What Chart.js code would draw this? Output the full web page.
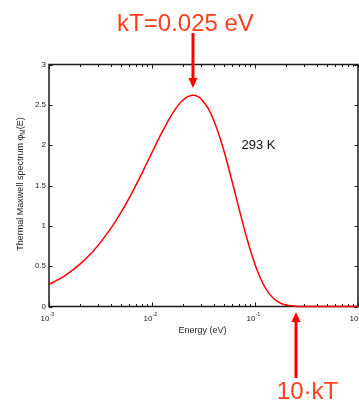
<!DOCTYPE html>
<html>
<head>
<meta charset="utf-8">
<script src="https://cdn.jsdelivr.net/npm/chart.js@4/dist/chart.umd.min.js"></script>
<style>
  html, body { margin: 0; padding: 0; background: #fff; }
  #wrap { width: 359px; height: 404px; position: relative; overflow: hidden; }
</style>
</head>
<body>
<div id="wrap"><canvas id="c" width="359" height="404"></canvas></div>
<script>
// Thermal Maxwell spectrum at 293 K (kT = 0.025 eV)
const energy = [0.001, 0.0012, 0.0015, 0.002, 0.0025, 0.003, 0.004, 0.005, 0.006, 0.007,
                0.008, 0.009, 0.01, 0.011, 0.012, 0.014, 0.015, 0.016, 0.018, 0.02,
                0.022, 0.025, 0.028, 0.03, 0.035, 0.04, 0.045, 0.05, 0.055, 0.06,
                0.065, 0.07, 0.08, 0.09, 0.1, 0.11, 0.12, 0.13, 0.14, 0.15,
                0.165, 0.18, 0.2, 0.25, 0.3, 0.5, 1.0];
const spectrum = [0.274, 0.326, 0.402, 0.526, 0.644, 0.758, 0.971, 1.166, 1.344, 1.507,
                  1.654, 1.788, 1.909, 2.018, 2.115, 2.277, 2.344, 2.403, 2.496, 2.559,
                  2.599, 2.619, 2.602, 2.573, 2.458, 2.300, 2.118, 1.927, 1.736, 1.550,
                  1.375, 1.212, 0.929, 0.700, 0.522, 0.385, 0.281, 0.204, 0.147, 0.106,
                  0.064, 0.038, 0.019, 0.003, 0.0005, 0, 0];

const kT = 0.025;
const xMajorTicks = [0.001, 0.01, 0.1, 1];
const xTickExponents = ['-3', '-2', '-1', '0'];
const yTicks = [0, 0.5, 1, 1.5, 2, 2.5, 3];
const yTickLabels = ['0', '0.5', '1', '1.5', '2', '2.5', '3'];

const FONT = '"Liberation Sans", Arial, Helvetica, sans-serif';
const NOTE_COLOR = '#ff4020';
const ARROW_COLOR = '#ff0000';

// Box frame with inward ticks and MATLAB-style tick labels
const axesBox = {
  id: 'axesBox',
  beforeDatasetsDraw(chart) {
    const { ctx, chartArea: a, scales: { x, y } } = chart;
    ctx.save();
    ctx.strokeStyle = '#1a1a1a';
    ctx.lineWidth = 1.5;
    ctx.strokeRect(a.left, a.top, a.right - a.left, a.bottom - a.top);

    ctx.lineWidth = 1;
    ctx.beginPath();
    yTicks.forEach(v => {
      const py = Math.round(y.getPixelForValue(v)) + 0.5;
      ctx.moveTo(a.left, py); ctx.lineTo(a.left + 3.5, py);
      ctx.moveTo(a.right, py); ctx.lineTo(a.right - 3.5, py);
    });
    xMajorTicks.forEach((v, i) => {
      const px = Math.round(x.getPixelForValue(v)) + 0.5;
      ctx.moveTo(px, a.bottom); ctx.lineTo(px, a.bottom - 4);
      ctx.moveTo(px, a.top); ctx.lineTo(px, a.top + 4);
      if (i < xMajorTicks.length - 1) {
        for (let m = 2; m <= 9; m++) {
          const mx = Math.round(x.getPixelForValue(v * m)) + 0.5;
          ctx.moveTo(mx, a.bottom); ctx.lineTo(mx, a.bottom - 2.5);
          ctx.moveTo(mx, a.top); ctx.lineTo(mx, a.top + 2.5);
        }
      }
    });
    ctx.stroke();

    // tick labels
    ctx.fillStyle = '#222';
    ctx.font = '8px ' + FONT;
    ctx.textAlign = 'right';
    ctx.textBaseline = 'middle';
    yTicks.forEach((v, i) => {
      ctx.fillText(yTickLabels[i], a.left - 3, y.getPixelForValue(v));
    });
    ctx.textBaseline = 'alphabetic';
    xMajorTicks.forEach((v, i) => {
      const px = x.getPixelForValue(v);
      ctx.font = '8px ' + FONT;
      ctx.textAlign = 'right';
      ctx.fillText('10', px + 0.5, a.bottom + 14.5);
      ctx.font = '5.5px ' + FONT;
      ctx.textAlign = 'left';
      ctx.fillText(xTickExponents[i], px + 0.5, a.bottom + 9.5);
    });

    // axis titles
    ctx.font = '9px ' + FONT;
    ctx.textAlign = 'center';
    ctx.fillText('Energy (eV)', (a.left + a.right) / 2 - 1, a.bottom + 26.5);

    ctx.translate(19.5, 184);
    ctx.rotate(-Math.PI / 2);
    const main = 'Thermal Maxwell spectrum \u03C6';
    const sub = 'M';
    const tail = '(E)';
    ctx.font = '9px ' + FONT;
    const wMain = ctx.measureText(main).width;
    const wTail = ctx.measureText(tail).width;
    ctx.font = '6.5px ' + FONT;
    const wSub = ctx.measureText(sub).width;
    let sx = -(wMain + wSub + wTail) / 2;
    ctx.textAlign = 'left';
    ctx.font = '9px ' + FONT;
    ctx.fillText(main, sx, 3.2);
    sx += wMain;
    ctx.font = '6.5px ' + FONT;
    ctx.fillText(sub, sx, 5.2);
    sx += wSub;
    ctx.font = '9px ' + FONT;
    ctx.fillText(tail, sx, 3.2);
    ctx.restore();
  }
};

function drawArrow(ctx, x, yTail, yTip, down) {
  const head = 10, half = 4.5;
  const dir = down ? 1 : -1;
  ctx.strokeStyle = ARROW_COLOR;
  ctx.fillStyle = ARROW_COLOR;
  ctx.lineWidth = 3;
  ctx.beginPath();
  ctx.moveTo(x, yTail);
  ctx.lineTo(x, yTip - dir * head);
  ctx.stroke();
  ctx.beginPath();
  ctx.moveTo(x, yTip);
  ctx.lineTo(x - half, yTip - dir * head);
  ctx.lineTo(x + half, yTip - dir * head);
  ctx.closePath();
  ctx.fill();
}

// Annotations: temperature label and kT / 10·kT markers
const notes = {
  id: 'notes',
  afterDraw(chart) {
    const { ctx, scales: { x } } = chart;
    ctx.save();
    ctx.fillStyle = '#111';
    ctx.font = '13px ' + FONT;
    ctx.textAlign = 'left';
    ctx.textBaseline = 'alphabetic';
    ctx.fillText('293 K', 241.5, 149);

    const pk = x.getPixelForValue(kT);
    drawArrow(ctx, pk, 33, 88, true);
    const p10 = x.getPixelForValue(10 * kT);
    drawArrow(ctx, p10, 378, 312, false);

    ctx.fillStyle = NOTE_COLOR;
    ctx.font = '24px ' + FONT;
    ctx.textAlign = 'center';
    ctx.fillText('kT=0.025 eV', 185.5, 31);
    ctx.fillText('10\u00B7kT', 307.5, 399);
    ctx.restore();
  }
};

new Chart(document.getElementById('c'), {
  type: 'line',
  data: {
    labels: energy,
    datasets: [{
      data: energy.map((e, i) => ({ x: e, y: spectrum[i] })),
      borderColor: '#ff0000',
      borderWidth: 1.5,
      pointRadius: 0,
      fill: false,
      tension: 0.35,
      clip: 4
    }]
  },
  options: {
    responsive: false,
    animation: false,
    devicePixelRatio: 1,
    layout: { padding: { left: 49, right: 1, top: 64.5, bottom: 97.5 } },
    plugins: { legend: { display: false }, tooltip: { enabled: false } },
    scales: {
      x: { type: 'logarithmic', display: false, min: 0.001, max: 1 },
      y: { type: 'linear', display: false, min: 0, max: 3 }
    }
  },
  plugins: [axesBox, notes]
});
</script>
</body>
</html>
